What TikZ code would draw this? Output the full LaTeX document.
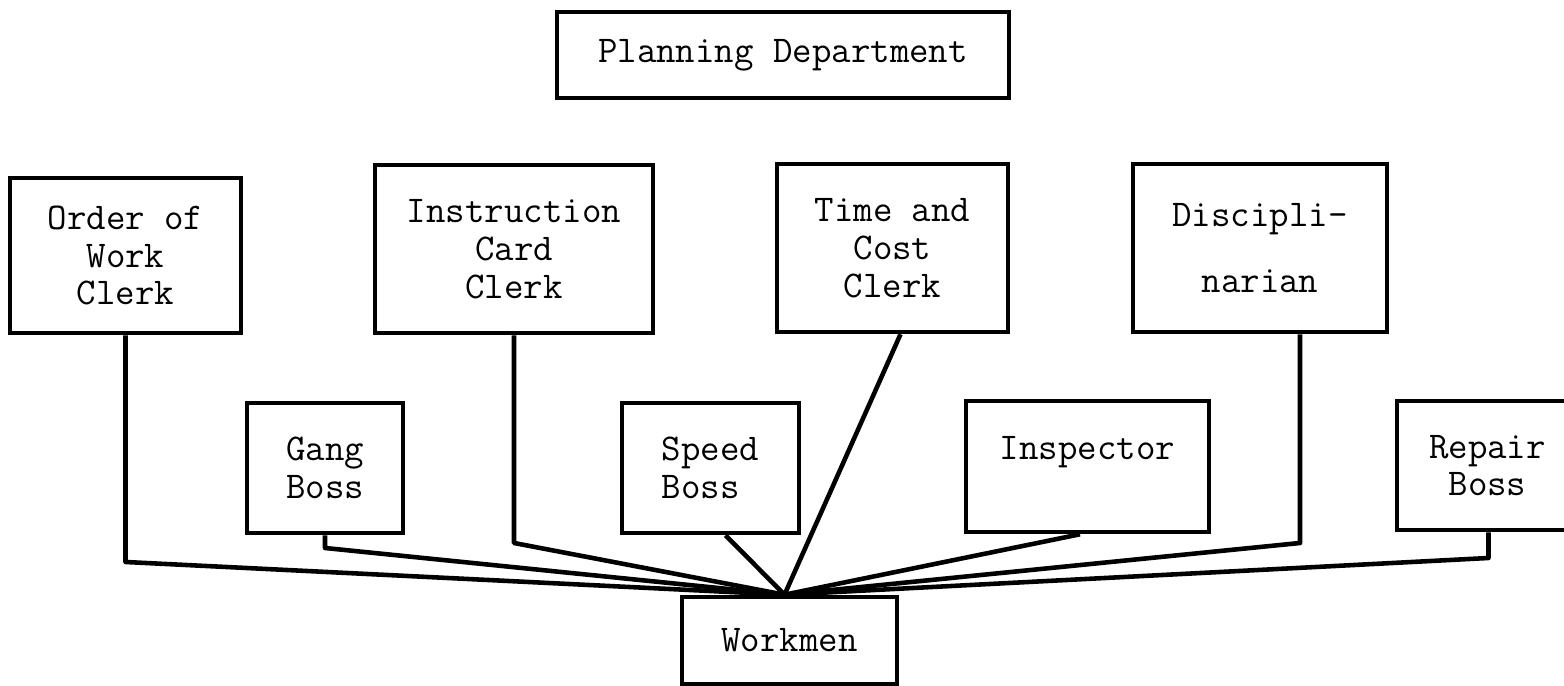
\documentclass[tikz,border=0pt]{standalone}
\usepackage{fontspec}

\begin{document}
\begin{tikzpicture}[box/.style={draw, line width=2.6pt, inner sep=0pt, align=center, font=\ttfamily\fontsize{21.5}{21.5}\selectfont},
    link/.style={line width=2.6pt, line join=round}]
  \useasboundingbox (0,0) rectangle (31.28,13.72);
  % head office
  \node[box, minimum width=9.04cm, minimum height=1.72cm] (plan) at (15.66,12.62) {Planning Department};
  % clerks, upper row
  \node[box, minimum width=4.62cm, minimum height=3.10cm] (order) at (2.51,8.61) {Order of\\Work\\Clerk};
  \node[box, minimum width=5.56cm, minimum height=3.36cm] (instr) at (10.28,8.74) {Instruction\\Card\\Clerk};
  \node[box, minimum width=4.62cm, minimum height=3.36cm] (timecost) at (17.85,8.76) {Time and\\Cost\\Clerk};
  \node[box, minimum width=5.08cm, minimum height=3.36cm] (discip) at (25.20,8.76) {Discipli-\\[16pt]narian};
  % bosses, lower row
  \node[box, minimum width=3.12cm, minimum height=2.60cm] (gang) at (6.50,4.36) {Gang\\Boss};
  \node[box, align=left, minimum width=3.54cm, minimum height=2.60cm] (speed) at (14.21,4.36) {Speed\\Boss};
  \node[box, minimum width=4.86cm, minimum height=2.62cm] (insp) at (21.75,4.39) {Inspector\\\mbox{}};
  \node[box, minimum width=3.62cm, minimum height=2.58cm] (repair) at (29.75,4.41) {Repair\\Boss};
  \node[box, minimum width=4.30cm, minimum height=1.74cm] (work) at (15.79,0.91) {Workmen};
  \coordinate (hub) at ([xshift=-0.1cm]work.north);
  % lines to the workmen
  \draw[link] (order.south) -- (order.south |- 0,2.48) -- (hub);
  \draw[link] (gang.south) -- (gang.south |- 0,2.76) -- (hub);
  \draw[link] (instr.south) -- (instr.south |- 0,2.86) -- (hub);
  \draw[link] ([xshift=0.3cm]speed.south) -- (hub);
  \draw[link] ([xshift=0.16cm]timecost.south) -- (hub);
  \draw[link] ([xshift=-0.15cm]insp.south) -- (hub);
  \draw[link] ([xshift=0.8cm]discip.south) -- ([xshift=0.8cm]discip.south |- 0,2.86) -- (hub);
  \draw[link] ([xshift=0.02cm]repair.south) -- ([xshift=0.02cm]repair.south |- 0,2.56) -- (hub);
\end{tikzpicture}
\end{document}
